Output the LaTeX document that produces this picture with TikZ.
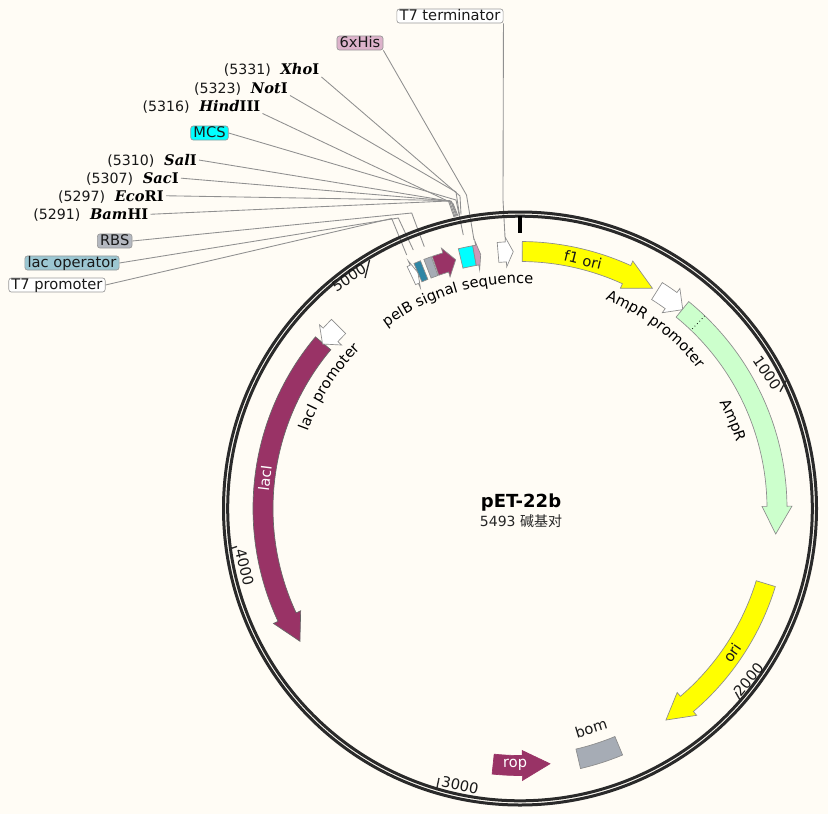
\documentclass[tikz,border=0pt]{standalone}
\usepackage{fontspec}
\usepackage{tikz}
\setmainfont{DejaVu Sans}
\newfontfamily\sitefont{DejaVu Serif}
\newfontfamily\cjkfont{Noto Sans CJK SC}
\usetikzlibrary{positioning,decorations.text}

\definecolor{paper}{HTML}{FFFCF5}
\definecolor{ringblack}{HTML}{2A2A2A}
\definecolor{leadergray}{HTML}{909090}
\definecolor{geneyellow}{HTML}{FFFF00}
\definecolor{genecyan}{HTML}{00FFFF}
\definecolor{genegreen}{HTML}{CCFFCC}
\definecolor{genepurple}{HTML}{993366}
\definecolor{genegray}{HTML}{A6ACB5}
\definecolor{geneteal}{HTML}{2E86A5}
\definecolor{genepink}{HTML}{CC99B8}
\definecolor{flagteal}{HTML}{9CC7D2}
\definecolor{flagpink}{HTML}{DDB3CB}
\definecolor{flaggray}{HTML}{B4B8C0}

\newcommand{\lblsize}{\fontsize{11pt}{13pt}\selectfont}
\newcommand{\possize}{\fontsize{10.6pt}{13pt}\selectfont}

% band of a gene: style, start, head base, tip (degrees clockwise from the top)
\newcommand{\genearrow}[4]{%
    \draw[#1] (90-#2:267) arc[start angle=90-#2, end angle=90-#3, radius=267]
        -- (90-#3:272) -- (90-#4:257) -- (90-#3:242) -- (90-#3:247)
        arc[start angle=90-#3, end angle=90-#2, radius=247] -- cycle;}
\newcommand{\genebox}[3]{%
    \draw[#1] (90-#2:267) arc[start angle=90-#2, end angle=90-#3, radius=267]
        -- (90-#3:247) arc[start angle=90-#3, end angle=90-#2, radius=247] -- cycle;}
\newcommand{\curvedlabel}[4]{%
    \path[decorate, decoration={text along path, text align=center, text={|\lblsize|#4}}]
        (90-#1:#3) arc[start angle=90-#1, end angle=90-#2, radius=#3];}

\tikzset{
    gene/.style={draw=black!45, line width=0.5pt, fill=#1},
    flag/.style={draw=black!40, fill=#1, rounded corners=2pt, line width=0.5pt, font=\lblsize,
        inner xsep=2pt, inner ysep=0pt, text height=8.4pt, text depth=2.2pt, text=black!90},
    enzyme/.style={font=\fontsize{11pt}{13pt}\sitefont\bfseries, inner sep=1.5pt, anchor=base east},
    sitepos/.style={font=\possize, inner sep=0pt, text=black!90},
    leader/.style={draw=leadergray, line width=0.65pt},
    ticklabel/.style={font=\lblsize, inner sep=0pt, text=black!90},
    ticker/.style={draw=ringblack, line width=1pt},
    genelabel/.style={font=\lblsize, inner sep=0pt, text=black!90}
}

\begin{document}
\begin{tikzpicture}[x=0.75pt, y=-0.75pt]
    \useasboundingbox (0,0) rectangle (828,814);
    \fill[paper] (0,0) rectangle (828,814);

    \node[flag=white] (t7term) at (450,16) {T7 terminator};
    \node[flag=flagpink] (his) at (360,43) {6xHis};
    \node[flag=genecyan] (mcs) at (209.5,133) {MCS};
    \node[flag=flaggray] (rbs) at (114.7,241) {RBS};
    \node[flag=flagteal] (lacop) at (72,263) {lac operator};
    \node[flag=white] (t7prom) at (57,285) {T7 promoter};

    \node[enzyme] (xho) at (321.5,74.5) {\textit{Xho}I};
    \node[enzyme] (not) at (290,93) {\textit{Not}I};
    \node[enzyme] (hind) at (262.5,111) {\textit{Hind}III};
    \node[enzyme] (sal) at (199,165.5) {\textit{Sal}I};
    \node[enzyme] (sac) at (181,183.5) {\textit{Sac}I};
    \node[enzyme] (eco) at (166,201) {\textit{Eco}RI};
    \node[enzyme] (bam) at (150.5,219.5) {\textit{Bam}HI};
    \node[sitepos, base left=5.4pt of xho] (xhopos) {(5331)};
    \node[sitepos, base left=5.4pt of not] (notpos) {(5323)};
    \node[sitepos, base left=5.4pt of hind] (hindpos) {(5316)};
    \node[sitepos, base left=5.4pt of sal] (salpos) {(5310)};
    \node[sitepos, base left=5.4pt of sac] (sacpos) {(5307)};
    \node[sitepos, base left=5.4pt of eco] (ecopos) {(5297)};
    \node[sitepos, base left=5.4pt of bam] (bampos) {(5291)};

    \foreach \from/\ex/\ey/\tx/\ty in {
        xho.south east/460/196/461/214.5, not.south east/456/192/459.5/215,
        hind.south east/453/203.5/458/216, sal.east/451.5/201.5/457/216,
        sac.east/451/201/456/216.5, eco.east/449.5/200.5/455/217, bam.east/448.5/201/454/217,
        mcs.east/456/200/463.3/235, his.south east/466.5/195/474/240,
        t7term.south east/503/200/505/236.7, rbs.east/411.7/213/424.3/246.7,
        lacop.east/398.3/218/413.3/250, t7prom.east/391.7/218.5/406.7/255} {
        \coordinate (bend) at (\ex,\ey);
        \coordinate (end) at (\tx,\ty);
        \draw[leader] (\from) -- (bend) -- (end);
    }

    \begin{scope}[shift={(520,508.5)}, x=0.75pt, y=0.75pt]
        \draw[ringblack, line width=2.25pt] (0,0) circle (296.5);
        \draw[ringblack, line width=2.25pt] (0,0) circle (292.3);
        \draw[black, line width=2.6pt] (90:293) -- (90:276);

        \genearrow{gene=geneyellow}{0.5}{24.5}{31}
        \genearrow{gene=white}{32.2}{36}{39.3}
        \genearrow{gene=genegreen}{39.2}{89.5}{95.7}
        \draw[black, line width=0.6pt, dotted] (90-43.8:267) -- (90-43.8:247);
        \genearrow{gene=geneyellow}{107}{139.5}{145.4}
        \genebox{gene=genegray}{157.4}{166.9}
        \genearrow{gene=genepurple, draw=genepurple}{186}{179.5}{173.3}
        \genearrow{gene=genepurple, draw=black!60}{310}{245}{238.9}
        \genearrow{gene=white}{315.1}{312.5}{309.8}
        \genearrow{gene=white}{355.1}{356.85}{358.5}
        \genearrow{gene=white}{-25}{-24.3}{-23.4}
        \genebox{gene=geneteal}{-23.4}{-21.9}
        \genebox{gene=genegray}{-21.1}{-19.4}
        \genearrow{gene=genepurple}{-19.2}{-16.8}{-14.5}
        \genebox{gene=genecyan}{-13.35}{-10.2}
        \genearrow{gene=genepink}{-10.2}{-9.6}{-8.8}

        \curvedlabel{-42}{9}{225}{pelB signal sequence}
        \curvedlabel{14}{60}{226}{AmpR promoter}
        \curvedlabel{55}{80}{226}{AmpR}
        \curvedlabel{-75}{-40}{226}{lacI promoter}
    \end{scope}

    \draw[ticker] (786,380.7) -- (780,391.7);
    \draw[ticker] (740,700) -- (735.5,692);
    \draw[ticker] (439,778) -- (436.5,790);
    \draw[ticker] (229.5,549) -- (237,546.5);
    \draw[ticker] (369.5,260) -- (365,278);

    \node[ticklabel, rotate=-56] (tick1000) at (767,373) {1000};
    \node[ticklabel, rotate=50] (tick2000) at (748.5,679.5) {2000};
    \node[ticklabel, rotate=-12] (tick3000) at (460,785.5) {3000};
    \node[ticklabel, rotate=-76] (tick4000) at (244.5,567) {4000};
    \node[ticklabel, rotate=33] (tick5000) at (349,277.5) {5000};

    \node[genelabel, rotate=-14] (f1ori) at (583,260) {f1 ori};
    \node[genelabel, rotate=55.7] (orilabel) at (732,653) {ori};
    \node[genelabel, rotate=17] (bomlabel) at (591,728) {bom};
    \node[genelabel, text=white, rotate=1] (roplabel) at (515,765) {rop};
    \node[genelabel, text=white, rotate=83] (laci) at (265,478) {lacI};

    \node[font=\fontsize{13.5pt}{15pt}\selectfont\bfseries, inner sep=0pt] (title) at (521,503) {pET-22b};
    \node[font=\fontsize{10.5pt}{12pt}\selectfont, inner sep=0pt, below=2pt of title, text=black!85] (size) {5493 {\cjkfont 碱基对}};
\end{tikzpicture}
\end{document}
